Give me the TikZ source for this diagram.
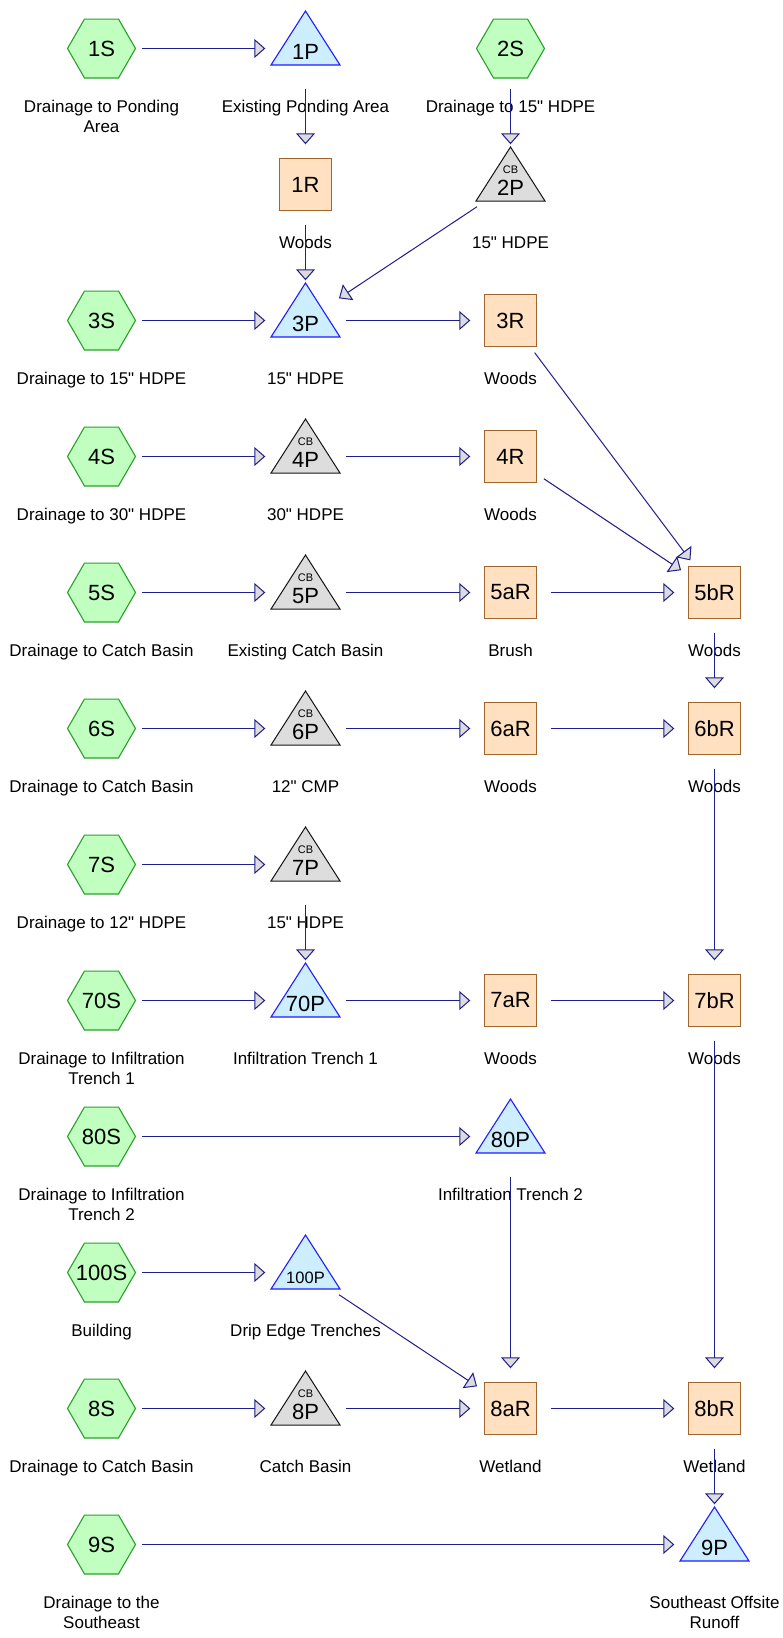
\documentclass[tikz,border=0pt]{standalone}
\usepackage{fontspec}
\setmainfont{Liberation Sans}[Ligatures=TeXOff]
\usetikzlibrary{arrows.meta}
\definecolor{hexfill}{RGB}{192,255,192}
\definecolor{hexdraw}{RGB}{40,160,40}
\definecolor{pondfill}{RGB}{204,238,255}
\definecolor{ponddraw}{RGB}{30,30,255}
\definecolor{cbfill}{RGB}{221,221,221}
\definecolor{cbdraw}{RGB}{20,20,20}
\definecolor{reachfill}{RGB}{255,224,192}
\definecolor{reachdraw}{RGB}{160,100,45}
\definecolor{flowc}{RGB}{30,30,140}
\definecolor{arrowfill}{RGB}{220,220,220}
\tikzset{
  hub/.style={circle,minimum size=80pt,inner sep=0pt,draw=none},
  hexshape/.style={fill=hexfill,draw=hexdraw,line width=1.1pt,line join=miter},
  pondtri/.style={fill=pondfill,draw=ponddraw,line width=1.1pt,line join=miter},
  cbtri/.style={fill=cbfill,draw=cbdraw,line width=1pt,line join=miter},
  reach/.style={rectangle,fill=reachfill,draw=reachdraw,line width=1.1pt,minimum width=52pt,minimum height=52pt,inner sep=0pt,font=\fontsize{22}{24}\selectfont},
  idt/.style={inner sep=0pt,font=\fontsize{22}{24}\selectfont},
  smallid/.style={inner sep=0pt,font=\fontsize{16.5}{19}\selectfont},
  cbt/.style={inner sep=0pt,font=\fontsize{11}{12}\selectfont},
  lab/.style={inner sep=0pt,anchor=base,font=\fontsize{17}{20}\selectfont},
  flow/.style={draw=flowc,line width=1pt,-{Triangle[length=11pt,width=19pt,fill=arrowfill]}}
}
\newcommand\hexnode[3]{%
  \node[hub] (#1) at (#2,#3) {};
  \filldraw[hexshape] (#2-34,#3) -- (#2-17,#3-29.45) -- (#2+17,#3-29.45) -- (#2+34,#3) -- (#2+17,#3+29.45) -- (#2-17,#3+29.45) -- cycle;
  \node[idt] (s#1) at (#2,#3) {#1};}
\newcommand\reachnode[3]{%
  \node[hub] (#1) at (#2,#3) {};
  \node[reach] (s#1) at (#2,#3) {#1};}
\newcommand\pondnode[3]{%
  \node[hub] (#1) at (#2,#3) {};
  \filldraw[pondtri] (#2-34.5,#3+16.5) -- (#2+34.5,#3+16.5) -- (#2,#3-37.5) -- cycle;
  \node[idt] (s#1) at (#2,#3+3.5) {#1};}
\newcommand\cbnode[3]{%
  \node[hub] (#1) at (#2,#3) {};
  \filldraw[cbtri] (#2-34.5,#3+16.5) -- (#2+34.5,#3+16.5) -- (#2,#3-37.5) -- cycle;
  \node[cbt] (c#1) at (#2,#3-14.5) {CB};
  \node[idt] (s#1) at (#2,#3+3.5) {#1};}
\newcommand\labone[4]{\node[lab] (l#1) at (#2,#3+63.5) {#4};}
\newcommand\labtwo[5]{\node[lab] (l#1) at (#2,#3+63.5) {#4};\node[lab] (m#1) at (#2,#3+84) {#5};}
\begin{document}
\begin{tikzpicture}[x=1pt,y=-1pt]
\useasboundingbox[fill=white] (0,0) rectangle (783,1638);
% columns: 101.5, 305.5, 510.5, 714.5 ; rows: 48.5 + 136k
% row 0
\hexnode{1S}{101.5}{48.5}
\pondnode{1P}{305.5}{48.5}
\hexnode{2S}{510.5}{48.5}
\labtwo{1S}{101.5}{48.5}{Drainage to Ponding}{Area}
\labone{1P}{305.5}{48.5}{Existing Ponding Area}
\labone{2S}{510.5}{48.5}{Drainage to 15" HDPE}
% row 1
\reachnode{1R}{305.5}{184.5}
\cbnode{2P}{510.5}{184.5}
\labone{1R}{305.5}{184.5}{Woods}
\labone{2P}{510.5}{184.5}{15" HDPE}
% row 2
\hexnode{3S}{101.5}{320.5}
\pondnode{3P}{305.5}{320.5}
\reachnode{3R}{510.5}{320.5}
\labone{3S}{101.5}{320.5}{Drainage to 15" HDPE}
\labone{3P}{305.5}{320.5}{15" HDPE}
\labone{3R}{510.5}{320.5}{Woods}
% row 3
\hexnode{4S}{101.5}{456.5}
\cbnode{4P}{305.5}{456.5}
\reachnode{4R}{510.5}{456.5}
\labone{4S}{101.5}{456.5}{Drainage to 30" HDPE}
\labone{4P}{305.5}{456.5}{30" HDPE}
\labone{4R}{510.5}{456.5}{Woods}
% row 4
\hexnode{5S}{101.5}{592.5}
\cbnode{5P}{305.5}{592.5}
\reachnode{5aR}{510.5}{592.5}
\reachnode{5bR}{714.5}{592.5}
\labone{5S}{101.5}{592.5}{Drainage to Catch Basin}
\labone{5P}{305.5}{592.5}{Existing Catch Basin}
\labone{5aR}{510.5}{592.5}{Brush}
\labone{5bR}{714.5}{592.5}{Woods}
% row 5
\hexnode{6S}{101.5}{728.5}
\cbnode{6P}{305.5}{728.5}
\reachnode{6aR}{510.5}{728.5}
\reachnode{6bR}{714.5}{728.5}
\labone{6S}{101.5}{728.5}{Drainage to Catch Basin}
\labone{6P}{305.5}{728.5}{12" CMP}
\labone{6aR}{510.5}{728.5}{Woods}
\labone{6bR}{714.5}{728.5}{Woods}
% row 6
\hexnode{7S}{101.5}{864.5}
\cbnode{7P}{305.5}{864.5}
\labone{7S}{101.5}{864.5}{Drainage to 12" HDPE}
\labone{7P}{305.5}{864.5}{15" HDPE}
% row 7
\hexnode{70S}{101.5}{1000.5}
\pondnode{70P}{305.5}{1000.5}
\reachnode{7aR}{510.5}{1000.5}
\reachnode{7bR}{714.5}{1000.5}
\labtwo{70S}{101.5}{1000.5}{Drainage to Infiltration}{Trench 1}
\labone{70P}{305.5}{1000.5}{Infiltration Trench 1}
\labone{7aR}{510.5}{1000.5}{Woods}
\labone{7bR}{714.5}{1000.5}{Woods}
% row 8
\hexnode{80S}{101.5}{1136.5}
\pondnode{80P}{510.5}{1136.5}
\labtwo{80S}{101.5}{1136.5}{Drainage to Infiltration}{Trench 2}
\labone{80P}{510.5}{1136.5}{Infiltration Trench 2}
% row 9
\hexnode{100S}{101.5}{1272.5}
\node[hub] (100P) at (305.5,1272.5) {};
\filldraw[pondtri] (305.5-34.5,1272.5+16.5) -- (305.5+34.5,1272.5+16.5) -- (305.5,1272.5-37.5) -- cycle;
\node[smallid] (s100P) at (305.5,1272.5+5) {100P};
\labone{100S}{101.5}{1272.5}{Building}
\labone{100P}{305.5}{1272.5}{Drip Edge Trenches}
% row 10
\hexnode{8S}{101.5}{1408.5}
\cbnode{8P}{305.5}{1408.5}
\reachnode{8aR}{510.5}{1408.5}
\reachnode{8bR}{714.5}{1408.5}
\labone{8S}{101.5}{1408.5}{Drainage to Catch Basin}
\labone{8P}{305.5}{1408.5}{Catch Basin}
\labone{8aR}{510.5}{1408.5}{Wetland}
\labone{8bR}{714.5}{1408.5}{Wetland}
% row 11
\hexnode{9S}{101.5}{1544.5}
\pondnode{9P}{714.5}{1544.5}
\labtwo{9S}{101.5}{1544.5}{Drainage to the}{Southeast}
\labtwo{9P}{714.5}{1544.5}{Southeast Offsite}{Runoff}
% connectors
\draw[flow] (1S) -- (1P);
\draw[flow] (1P) -- (1R);
\draw[flow] (1R) -- (3P);
\draw[flow] (2S) -- (2P);
\draw[flow] (2P) -- (3P);
\draw[flow] (3S) -- (3P);
\draw[flow] (3P) -- (3R);
\draw[flow] (3R) -- (5bR);
\draw[flow] (4S) -- (4P);
\draw[flow] (4P) -- (4R);
\draw[flow] (4R) -- (5bR);
\draw[flow] (5S) -- (5P);
\draw[flow] (5P) -- (5aR);
\draw[flow] (5aR) -- (5bR);
\draw[flow] (5bR) -- (6bR);
\draw[flow] (6S) -- (6P);
\draw[flow] (6P) -- (6aR);
\draw[flow] (6aR) -- (6bR);
\draw[flow] (6bR) -- (7bR);
\draw[flow] (7S) -- (7P);
\draw[flow] (7P) -- (70P);
\draw[flow] (70S) -- (70P);
\draw[flow] (70P) -- (7aR);
\draw[flow] (7aR) -- (7bR);
\draw[flow] (7bR) -- (8bR);
\draw[flow] (80S) -- (80P);
\draw[flow] (80P) -- (8aR);
\draw[flow] (100S) -- (100P);
\draw[flow] (100P) -- (8aR);
\draw[flow] (8S) -- (8P);
\draw[flow] (8P) -- (8aR);
\draw[flow] (8aR) -- (8bR);
\draw[flow] (8bR) -- (9P);
\draw[flow] (9S) -- (9P);
\end{tikzpicture}
\end{document}
